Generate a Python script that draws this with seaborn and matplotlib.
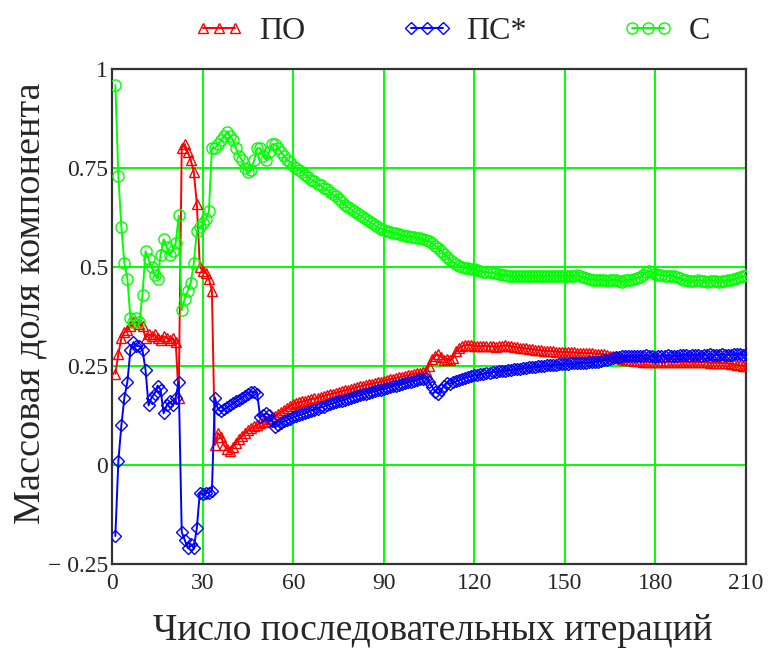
import matplotlib
matplotlib.use("Agg")
import matplotlib.pyplot as plt
import seaborn as sns
import numpy as np
from matplotlib.lines import Line2D

# ---------------- data ----------------
iterations = list(range(1, 211))

po = [  # ПО
    0.23, 0.28, 0.32, 0.335, 0.34, 0.35, 0.36, 0.36, 0.355, 0.35,
    0.32, 0.33, 0.325, 0.33, 0.32, 0.315, 0.325, 0.32, 0.315, 0.32,
    0.31, 0.17, 0.80, 0.81, 0.79, 0.77, 0.74, 0.66, 0.50, 0.49,
    0.485, 0.47, 0.44, 0.05, 0.08, 0.07, 0.05, 0.04, 0.035, 0.045,
    0.055, 0.065, 0.072, 0.08, 0.087, 0.092, 0.097, 0.101, 0.105, 0.108,
    0.111, 0.115, 0.119, 0.124, 0.129, 0.134, 0.139, 0.144, 0.149, 0.154,
    0.156, 0.158, 0.16, 0.162, 0.164, 0.166, 0.168, 0.17, 0.172, 0.174,
    0.176, 0.178, 0.18, 0.182, 0.184, 0.186, 0.188, 0.19, 0.192, 0.194,
    0.196, 0.198, 0.20, 0.202, 0.204, 0.205, 0.207, 0.208, 0.21, 0.212,
    0.214, 0.216, 0.218, 0.219, 0.221, 0.223, 0.225, 0.226, 0.228, 0.23,
    0.231, 0.233, 0.235, 0.237, 0.25, 0.268, 0.276, 0.279, 0.272, 0.266,
    0.268, 0.264, 0.27, 0.288, 0.295, 0.30, 0.302, 0.303, 0.302, 0.301,
    0.30, 0.299, 0.30, 0.301, 0.30, 0.299, 0.298, 0.299, 0.30, 0.302,
    0.301, 0.30, 0.298, 0.297, 0.296, 0.295, 0.294, 0.293, 0.292, 0.291,
    0.29, 0.289, 0.288, 0.288, 0.287, 0.287, 0.286, 0.286, 0.285, 0.285,
    0.285, 0.284, 0.284, 0.283, 0.283, 0.283, 0.282, 0.282, 0.282, 0.281,
    0.281, 0.28, 0.279, 0.278, 0.276, 0.274, 0.272, 0.27, 0.268, 0.266,
    0.265, 0.264, 0.263, 0.262, 0.262, 0.261, 0.261, 0.26, 0.26, 0.26,
    0.26, 0.259, 0.26, 0.261, 0.26, 0.259, 0.26, 0.26, 0.259, 0.26,
    0.26, 0.259, 0.259, 0.26, 0.26, 0.259, 0.259, 0.258, 0.258, 0.258,
    0.258, 0.257, 0.257, 0.256, 0.255, 0.254, 0.252, 0.251, 0.25, 0.25,
]

ps = [  # ПС*
    -0.18, 0.01, 0.10, 0.17, 0.21, 0.29, 0.31, 0.30, 0.30, 0.29,
    0.24, 0.15, 0.17, 0.18, 0.20, 0.19, 0.13, 0.15, 0.16, 0.15,
    0.17, 0.21, -0.17, -0.19, -0.21, -0.20, -0.21, -0.16, -0.07, -0.075,
    -0.07, -0.07, -0.065, 0.17, 0.14, 0.135, 0.14, 0.145, 0.15, 0.155,
    0.16, 0.165, 0.17, 0.175, 0.18, 0.185, 0.185, 0.18, 0.12, 0.125,
    0.13, 0.125, 0.11, 0.095, 0.10, 0.106, 0.11, 0.113, 0.117, 0.12,
    0.123, 0.126, 0.128, 0.131, 0.134, 0.137, 0.139, 0.142, 0.145, 0.147,
    0.15, 0.153, 0.155, 0.158, 0.16, 0.162, 0.165, 0.167, 0.17, 0.172,
    0.174, 0.176, 0.178, 0.18, 0.182, 0.184, 0.186, 0.188, 0.19, 0.192,
    0.194, 0.196, 0.198, 0.20, 0.202, 0.204, 0.206, 0.208, 0.21, 0.212,
    0.214, 0.216, 0.218, 0.22, 0.21, 0.197, 0.185, 0.18, 0.19, 0.20,
    0.207, 0.205, 0.208, 0.211, 0.214, 0.217, 0.22, 0.222, 0.224, 0.226,
    0.227, 0.229, 0.23, 0.231, 0.232, 0.234, 0.235, 0.236, 0.237, 0.238,
    0.239, 0.24, 0.241, 0.242, 0.243, 0.244, 0.245, 0.246, 0.247, 0.248,
    0.249, 0.25, 0.25, 0.251, 0.252, 0.252, 0.253, 0.254, 0.254, 0.255,
    0.255, 0.256, 0.256, 0.257, 0.257, 0.258, 0.258, 0.259, 0.26, 0.26,
    0.261, 0.262, 0.264, 0.266, 0.268, 0.27, 0.272, 0.273, 0.274, 0.275,
    0.276, 0.276, 0.275, 0.274, 0.275, 0.276, 0.277, 0.276, 0.274, 0.273,
    0.274, 0.275, 0.276, 0.277, 0.276, 0.275, 0.276, 0.277, 0.278, 0.277,
    0.276, 0.277, 0.278, 0.277, 0.276, 0.277, 0.278, 0.279, 0.278, 0.277,
    0.278, 0.279, 0.278, 0.277, 0.278, 0.279, 0.28, 0.279, 0.278, 0.279,
]

c = [  # С
    0.96, 0.73, 0.60, 0.51, 0.47, 0.37, 0.36, 0.37, 0.36, 0.43,
    0.54, 0.52, 0.50, 0.48, 0.47, 0.53, 0.57, 0.55, 0.53, 0.54,
    0.56, 0.63, 0.39, 0.42, 0.44, 0.46, 0.51, 0.59, 0.60, 0.61,
    0.62, 0.64, 0.80, 0.80, 0.81, 0.82, 0.83, 0.84, 0.83, 0.82,
    0.80, 0.78, 0.77, 0.75, 0.74, 0.745, 0.77, 0.80, 0.80, 0.78,
    0.77, 0.79, 0.81, 0.81, 0.80, 0.79, 0.78, 0.77, 0.765, 0.755,
    0.75, 0.745, 0.74, 0.732, 0.726, 0.72, 0.716, 0.71, 0.706, 0.70,
    0.696, 0.69, 0.684, 0.678, 0.672, 0.665, 0.657, 0.651, 0.646, 0.641,
    0.636, 0.631, 0.626, 0.62, 0.615, 0.61, 0.605, 0.60, 0.597, 0.593,
    0.59, 0.588, 0.586, 0.585, 0.583, 0.58, 0.578, 0.577, 0.576, 0.575,
    0.573, 0.572, 0.57, 0.568, 0.565, 0.56, 0.554, 0.547, 0.54, 0.532,
    0.525, 0.518, 0.512, 0.507, 0.503, 0.50, 0.498, 0.497, 0.495, 0.494,
    0.493, 0.49, 0.488, 0.487, 0.486, 0.485, 0.484, 0.482, 0.48, 0.479,
    0.478, 0.477, 0.476, 0.477, 0.478, 0.477, 0.476, 0.477, 0.478, 0.477,
    0.478, 0.477, 0.476, 0.478, 0.477, 0.476, 0.477, 0.478, 0.477, 0.478,
    0.477, 0.476, 0.478, 0.479, 0.476, 0.474, 0.471, 0.469, 0.468, 0.467,
    0.466, 0.468, 0.467, 0.465, 0.466, 0.468, 0.467, 0.465, 0.463, 0.466,
    0.468, 0.467, 0.47, 0.472, 0.475, 0.48, 0.486, 0.49, 0.487, 0.483,
    0.48, 0.479, 0.478, 0.477, 0.478, 0.477, 0.475, 0.472, 0.468, 0.466,
    0.465, 0.464, 0.465, 0.466, 0.465, 0.464, 0.463, 0.464, 0.465, 0.464,
    0.463, 0.464, 0.465, 0.466, 0.467, 0.469, 0.472, 0.475, 0.477, 0.479,
]

series_names = ["ПО", "ПС*", "С"]
x_ticks = [0, 30, 60, 90, 120, 150, 180, 210]
y_ticks = [-0.25, 0, 0.25, 0.5, 0.75, 1]
y_tick_labels = ["\u2212 0.25", "0", "0.25", "0.5", "0.75", "1"]

# ---------------- style ----------------
sns.set_theme(style="white")
plt.rcParams["font.family"] = ["Liberation Serif", "DejaVu Serif"]

fig = plt.figure(figsize=(7.72, 6.48), dpi=100)
ax = fig.add_axes([0.1455, 0.1300, 0.8208, 0.7635])

colors = ["#ff0000", "#0000ff", "#00ff00"]
markers = ["^", "D", "o"]
msizes = [7.5, 5.8, 8.0]

for name, vals, col, mk, ms in zip(series_names, [po, ps, c], colors, markers, msizes):
    sns.lineplot(x=iterations, y=vals, ax=ax, color=col, marker=mk,
                 markersize=ms, markerfacecolor="none", markeredgecolor=col,
                 markeredgewidth=1.0, linewidth=1.4, estimator=None,
                 sort=False, legend=False, zorder=3)

ax.set_xlim(0, 210)
ax.set_ylim(-0.25, 1)
ax.set_xticks(x_ticks)
ax.set_xticklabels([str(t) for t in x_ticks], fontsize=17)
ax.set_yticks(y_ticks)
ax.set_yticklabels(y_tick_labels, fontsize=17)
ax.tick_params(axis="x", length=0, pad=7)
ax.tick_params(axis="y", length=0, pad=3)
ax.grid(True, color="#00ff00", linewidth=1.4, zorder=0)
ax.set_axisbelow(True)
for sp in ax.spines.values():
    sp.set_color("#333333")
    sp.set_linewidth(1.6)

ax.set_xlabel("Число последовательных итераций", fontsize=27, va="center")
ax.set_ylabel("Массовая доля компонента", fontsize=27.5, va="center")
ax.xaxis.set_label_coords(0.505, -0.136)
ax.yaxis.set_label_coords(-0.13, 0.527)

handles = [Line2D([0], [0], color=col, marker=mk, markersize=ms,
                  markerfacecolor="none", markeredgecolor=col,
                  markeredgewidth=1.0, linewidth=1.4)
           for col, mk, ms in zip(colors, markers, msizes)]
fig.legend(handles, series_names, loc="center", ncol=3,
           bbox_to_anchor=(0.585, 0.951), frameon=False, fontsize=23,
           numpoints=3, handlelength=1.6, handletextpad=0.45,
           columnspacing=3.0)

fig.savefig("out.png", dpi=100, facecolor="white")
